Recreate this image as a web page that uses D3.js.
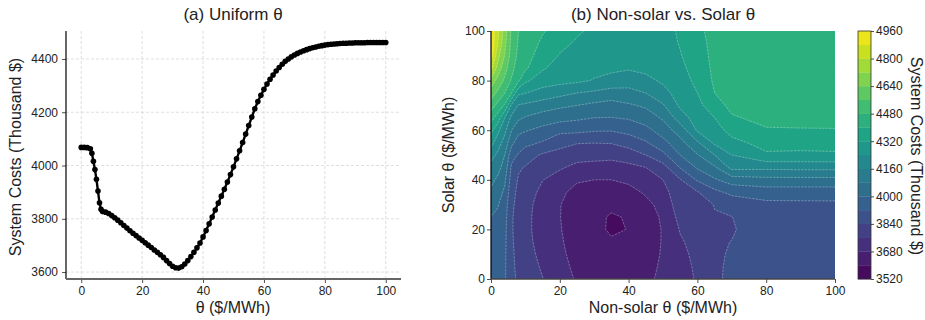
<!DOCTYPE html>
<html>
<head>
<meta charset="utf-8">
<script src="https://cdn.jsdelivr.net/npm/d3@7"></script>
<style>
  body { margin: 0; background: #fff; }
  text { font-family: "Liberation Sans", Arial, sans-serif; fill: #222; }
</style>
</head>
<body>
<svg id="chart" width="925" height="320"></svg>
<script>
// ---- (a) uniform theta sweep ----
const thetaUniform = [0, 1, 2, 3, 3.5, 4, 4.5, 5, 5.5, 6, 6.5, 7, 8, 9, 10,
  11, 12, 13, 14, 15, 16, 17, 18, 19, 20, 21, 22, 23, 24, 25, 26, 27, 28, 29, 30,
  31, 32, 33, 34, 35, 36, 37, 38, 39, 40, 41, 42, 43, 44, 45, 46, 47, 48, 49, 50,
  51, 52, 53, 54, 55, 56, 57, 58, 59, 60, 61, 62, 63, 64, 65, 66, 67, 68, 69, 70,
  71, 72, 73, 74, 75, 76, 77, 78, 79, 80, 81, 82, 83, 84, 85, 86, 87, 88, 89, 90,
  91, 92, 93, 94, 95, 96, 97, 98, 99, 100];
const costUniform = [4068, 4068, 4067, 4063, 4046, 4016, 3985, 3948, 3904, 3860, 3836, 3827, 3825, 3820, 3812,
  3804, 3795, 3785, 3775, 3765, 3755, 3746, 3737, 3728, 3719, 3710, 3701, 3692, 3683, 3674, 3665, 3655, 3643, 3632, 3622,
  3616, 3615, 3620, 3630, 3643, 3658, 3674, 3691, 3709, 3732, 3756, 3781, 3807, 3833, 3859, 3885, 3911, 3938, 3966, 3995,
  4025, 4055, 4086, 4118, 4150, 4182, 4213, 4240, 4264, 4286, 4306, 4324, 4340, 4355, 4368, 4380, 4391, 4400, 4408, 4415,
  4421, 4426, 4431, 4435, 4439, 4442, 4445, 4448, 4450, 4452, 4454, 4455, 4456, 4457, 4458, 4459, 4459, 4460, 4460, 4461,
  4461, 4461, 4461, 4462, 4462, 4462, 4462, 4462, 4462, 4462];
const thetaTicks = [0, 20, 40, 60, 80, 100];
const costTicks = [3600, 3800, 4000, 4200, 4400];

// ---- (b) non-solar vs solar theta ----
const nonSolarTheta = [0, 2, 4, 6, 8, 10, 15, 20, 25, 30, 35, 40, 45, 50, 55, 60, 65, 70, 80, 90, 100];
const solarTheta = [0, 5, 10, 15, 20, 25, 30, 35, 40, 45, 50, 55, 60, 65, 70, 75, 80, 85, 90, 95, 100];
// one row per non-solar theta, values along solar theta
const costGrid = [
  [3960, 3965, 3972, 3980, 3990, 4000, 4032, 4067, 4100, 4135, 4190, 4270, 4345, 4430, 4520, 4600, 4695, 4825, 4915, 4950, 4935],
  [3945, 3950, 3955, 3962, 3972, 3985, 4005, 4035, 4065, 4105, 4145, 4195, 4260, 4365, 4455, 4545, 4610, 4690, 4745, 4800, 4815],
  [3928, 3930, 3932, 3935, 3940, 3948, 3960, 3985, 4015, 4050, 4080, 4130, 4180, 4240, 4390, 4480, 4545, 4590, 4635, 4660, 4680],
  [3862, 3858, 3855, 3852, 3848, 3848, 3855, 3865, 3885, 3905, 3950, 4020, 4080, 4140, 4225, 4400, 4470, 4505, 4525, 4535, 4540],
  [3825, 3818, 3812, 3805, 3805, 3808, 3815, 3822, 3832, 3850, 3912, 3965, 4020, 4095, 4155, 4255, 4410, 4440, 4460, 4472, 4480],
  [3810, 3800, 3792, 3785, 3782, 3782, 3785, 3795, 3810, 3835, 3875, 3945, 4007, 4073, 4145, 4242, 4335, 4412, 4435, 4447, 4455],
  [3762, 3750, 3738, 3728, 3722, 3722, 3728, 3742, 3762, 3800, 3830, 3913, 3978, 4042, 4120, 4212, 4275, 4330, 4360, 4385, 4407],
  [3715, 3705, 3697, 3690, 3685, 3682, 3683, 3695, 3725, 3770, 3810, 3870, 3940, 4030, 4095, 4185, 4265, 4285, 4315, 4340, 4365],
  [3672, 3662, 3652, 3645, 3640, 3638, 3642, 3658, 3688, 3740, 3790, 3845, 3940, 4015, 4080, 4160, 4255, 4275, 4292, 4310, 4330],
  [3645, 3635, 3625, 3615, 3610, 3610, 3618, 3638, 3680, 3730, 3790, 3842, 3928, 4000, 4062, 4145, 4235, 4262, 4280, 4293, 4305],
  [3640, 3628, 3615, 3604, 3595, 3596, 3608, 3635, 3680, 3725, 3785, 3845, 3926, 3998, 4050, 4125, 4215, 4255, 4268, 4278, 4285],
  [3645, 3632, 3620, 3610, 3601, 3603, 3620, 3655, 3695, 3740, 3800, 3872, 3945, 4008, 4070, 4135, 4195, 4248, 4260, 4268, 4275],
  [3665, 3655, 3645, 3638, 3635, 3642, 3660, 3690, 3725, 3760, 3840, 3912, 3975, 4040, 4092, 4160, 4220, 4258, 4268, 4272, 4275],
  [3695, 3692, 3688, 3686, 3686, 3692, 3705, 3725, 3760, 3810, 3900, 3975, 4040, 4090, 4152, 4215, 4252, 4270, 4280, 4286, 4290],
  [3730, 3735, 3742, 3752, 3765, 3785, 3805, 3825, 3835, 3925, 4000, 4055, 4115, 4200, 4255, 4272, 4288, 4302, 4315, 4325, 4332],
  [3768, 3772, 3778, 3785, 3792, 3802, 3815, 3835, 3930, 4010, 4075, 4150, 4250, 4280, 4300, 4320, 4338, 4352, 4365, 4375, 4385],
  [3825, 3828, 3830, 3833, 3835, 3837, 3842, 3900, 3990, 4070, 4160, 4255, 4290, 4320, 4360, 4400, 4412, 4417, 4420, 4421, 4422],
  [3858, 3852, 3846, 3841, 3834, 3839, 3868, 3940, 4040, 4185, 4240, 4300, 4345, 4390, 4425, 4438, 4445, 4448, 4450, 4452, 4453],
  [3875, 3875, 3876, 3877, 3879, 3884, 3900, 3960, 4055, 4180, 4310, 4345, 4392, 4425, 4440, 4448, 4452, 4455, 4457, 4458, 4459],
  [3877, 3877, 3878, 3879, 3880, 3885, 3902, 3960, 4055, 4185, 4305, 4348, 4394, 4428, 4443, 4451, 4455, 4457, 4459, 4460, 4461],
  [3880, 3880, 3880, 3881, 3882, 3886, 3903, 3960, 4055, 4185, 4308, 4350, 4395, 4430, 4445, 4452, 4456, 4458, 4460, 4461, 4462]
];
const costLevels = [3520, 3600, 3680, 3760, 3840, 3920, 4000, 4080, 4160, 4240, 4320, 4400, 4480, 4560, 4640, 4720, 4800, 4880, 4960];
const colorbarTicks = [3520, 3680, 3840, 4000, 4160, 4320, 4480, 4640, 4800, 4960];
const gridTicks = [0, 20, 40, 60, 80, 100];

const svg = d3.select("#chart");
const plain = d3.format("d");

function styleAxis(g) {
  g.select(".domain").remove();
  g.selectAll(".tick line").attr("stroke", "#222").attr("stroke-width", 0.8);
  g.selectAll(".tick text").attr("font-size", 12).attr("fill", "#222")
    .attr("font-family", "'Liberation Sans', Arial, sans-serif");
}

// ================= panel (a) =================
const xA = d3.scaleLinear().domain([-5, 105]).range([66, 401]);
const yA = d3.scaleLinear().domain([3574, 4505]).range([279, 31]);
const gA = svg.append("g");

gA.selectAll(".vgrid").data(thetaTicks).enter().append("line")
  .attr("x1", d => xA(d)).attr("x2", d => xA(d))
  .attr("y1", 31).attr("y2", 279)
  .attr("stroke", "#d6d6d6").attr("stroke-width", 0.8).attr("stroke-dasharray", "3,2");
gA.selectAll(".hgrid").data(costTicks).enter().append("line")
  .attr("x1", 66).attr("x2", 401)
  .attr("y1", d => yA(d)).attr("y2", d => yA(d))
  .attr("stroke", "#d6d6d6").attr("stroke-width", 0.8).attr("stroke-dasharray", "3,2");

const pts = thetaUniform.map((t, i) => [t, costUniform[i]]);
gA.append("path").datum(pts)
  .attr("fill", "none").attr("stroke", "#000").attr("stroke-width", 2.4)
  .attr("stroke-linejoin", "round")
  .attr("d", d3.line().x(d => xA(d[0])).y(d => yA(d[1])));
gA.selectAll(".dot").data(pts).enter().append("circle")
  .attr("cx", d => xA(d[0])).attr("cy", d => yA(d[1])).attr("r", 2.8).attr("fill", "#000");

gA.append("g").attr("transform", "translate(66,0)")
  .call(d3.axisLeft(yA).tickValues(costTicks).tickFormat(plain).tickSize(4).tickPadding(4)).call(styleAxis);
gA.append("g").attr("transform", "translate(0,279)")
  .call(d3.axisBottom(xA).tickValues(thetaTicks).tickFormat(plain).tickSize(4).tickPadding(3)).call(styleAxis);

gA.append("line").attr("x1", 66).attr("x2", 66).attr("y1", 31).attr("y2", 279)
  .attr("stroke", "#000").attr("stroke-width", 1.2);
gA.append("line").attr("x1", 66).attr("x2", 401).attr("y1", 279).attr("y2", 279)
  .attr("stroke", "#666").attr("stroke-width", 1.8);

gA.append("text").attr("x", 233).attr("y", 20).attr("text-anchor", "middle")
  .attr("font-size", 17).text("(a) Uniform θ");
gA.append("text").attr("x", 233).attr("y", 313).attr("text-anchor", "middle")
  .attr("font-size", 16).text("θ ($/MWh)");
gA.append("text").attr("transform", "translate(21,157) rotate(-90)").attr("text-anchor", "middle")
  .attr("font-size", 16).text("System Costs (Thousand $)");

// ================= panel (b) =================
const xB = d3.scaleLinear().domain([0, 100]).range([491, 835]);
const yB = d3.scaleLinear().domain([0, 100]).range([279, 31]);
const gB = svg.append("g");

const nx = nonSolarTheta.length, ny = solarTheta.length;
const gridValues = new Array(nx * ny);
for (let j = 0; j < ny; j++)
  for (let i = 0; i < nx; i++) gridValues[j * nx + i] = costGrid[i][j];

const idxX = d3.scaleLinear().domain(d3.range(nx)).range(nonSolarTheta).clamp(true);
const idxY = d3.scaleLinear().domain(d3.range(ny)).range(solarTheta).clamp(true);
const proj = p => [xB(idxX(p[0] - 0.5)), yB(idxY(p[1] - 0.5))];

const nBands = costLevels.length - 1;
const bandColor = k => d3.interpolateViridis((k + 0.5) / nBands);
const contours = d3.contours().size([nx, ny]).thresholds(costLevels.slice(0, -1))(gridValues);

svg.append("defs").append("clipPath").attr("id", "clipB")
  .append("rect").attr("x", 491).attr("y", 31).attr("width", 344).attr("height", 248);
const plotB = gB.append("g").attr("clip-path", "url(#clipB)");

plotB.append("rect").attr("x", 491).attr("y", 31).attr("width", 344).attr("height", 248)
  .attr("fill", bandColor(0));

contours.forEach((c, k) => {
  let d = "";
  c.coordinates.forEach(poly => poly.forEach(ring => {
    d += "M" + ring.map(p => proj(p).map(v => v.toFixed(2)).join(",")).join("L") + "Z";
  }));
  if (d) plotB.append("path").attr("d", d).attr("fill", bandColor(k))
    .attr("stroke", bandColor(k)).attr("stroke-width", 0.4);
});

const onFrame = (a, b) =>
  (Math.abs(a[0] - 491) < 0.01 && Math.abs(b[0] - 491) < 0.01) ||
  (Math.abs(a[0] - 835) < 0.01 && Math.abs(b[0] - 835) < 0.01) ||
  (Math.abs(a[1] - 279) < 0.01 && Math.abs(b[1] - 279) < 0.01) ||
  (Math.abs(a[1] - 31) < 0.01 && Math.abs(b[1] - 31) < 0.01);

contours.forEach((c, k) => {
  if (k === 0) return;
  let d = "";
  c.coordinates.forEach(poly => poly.forEach(ring => {
    const q = ring.map(proj);
    let pen = false;
    for (let i = 1; i < q.length; i++) {
      if (onFrame(q[i - 1], q[i])) { pen = false; continue; }
      if (!pen) { d += "M" + q[i - 1][0].toFixed(2) + "," + q[i - 1][1].toFixed(2); pen = true; }
      d += "L" + q[i][0].toFixed(2) + "," + q[i][1].toFixed(2);
    }
  }));
  if (d) plotB.append("path").attr("d", d).attr("fill", "none")
    .attr("stroke", "#fff").attr("stroke-opacity", 0.4).attr("stroke-width", 0.7)
    .attr("stroke-dasharray", "2.5,1");
});

gB.append("g").attr("transform", "translate(491,0)")
  .call(d3.axisLeft(yB).tickValues(gridTicks).tickFormat(plain).tickSize(4).tickPadding(2)).call(styleAxis);
gB.append("g").attr("transform", "translate(0,279)")
  .call(d3.axisBottom(xB).tickValues(gridTicks).tickFormat(plain).tickSize(4).tickPadding(3)).call(styleAxis);
gB.append("line").attr("x1", 491).attr("x2", 491).attr("y1", 31).attr("y2", 279)
  .attr("stroke", "#000").attr("stroke-width", 1.2);
gB.append("line").attr("x1", 491).attr("x2", 835).attr("y1", 279).attr("y2", 279)
  .attr("stroke", "#444").attr("stroke-width", 1.5);

gB.append("text").attr("x", 663).attr("y", 20).attr("text-anchor", "middle")
  .attr("font-size", 17).text("(b) Non-solar vs. Solar θ");
gB.append("text").attr("x", 663).attr("y", 313).attr("text-anchor", "middle")
  .attr("font-size", 16).text("Non-solar θ ($/MWh)");
gB.append("text").attr("transform", "translate(454,155) rotate(-90)").attr("text-anchor", "middle")
  .attr("font-size", 16).text("Solar θ ($/MWh)");

// colorbar
const cbY = d3.scaleLinear().domain([3520, 4960]).range([279, 31]);
const gC = svg.append("g");
gC.selectAll(".band").data(d3.range(nBands)).enter().append("rect")
  .attr("x", 858).attr("width", 13)
  .attr("y", k => cbY(costLevels[k + 1]))
  .attr("height", k => cbY(costLevels[k]) - cbY(costLevels[k + 1]) + 0.3)
  .attr("fill", k => bandColor(k));
gC.append("rect").attr("x", 858).attr("y", 31).attr("width", 13).attr("height", 248)
  .attr("fill", "none").attr("stroke", "#333").attr("stroke-width", 0.8);
gC.append("g").attr("transform", "translate(871,0)")
  .call(d3.axisRight(cbY).tickValues(colorbarTicks).tickFormat(plain).tickSize(3).tickPadding(2)).call(styleAxis);
gC.append("text").attr("transform", "translate(911,156) rotate(90)").attr("text-anchor", "middle")
  .attr("font-size", 16).text("System Costs (Thousand $)");
</script>
</body>
</html>
